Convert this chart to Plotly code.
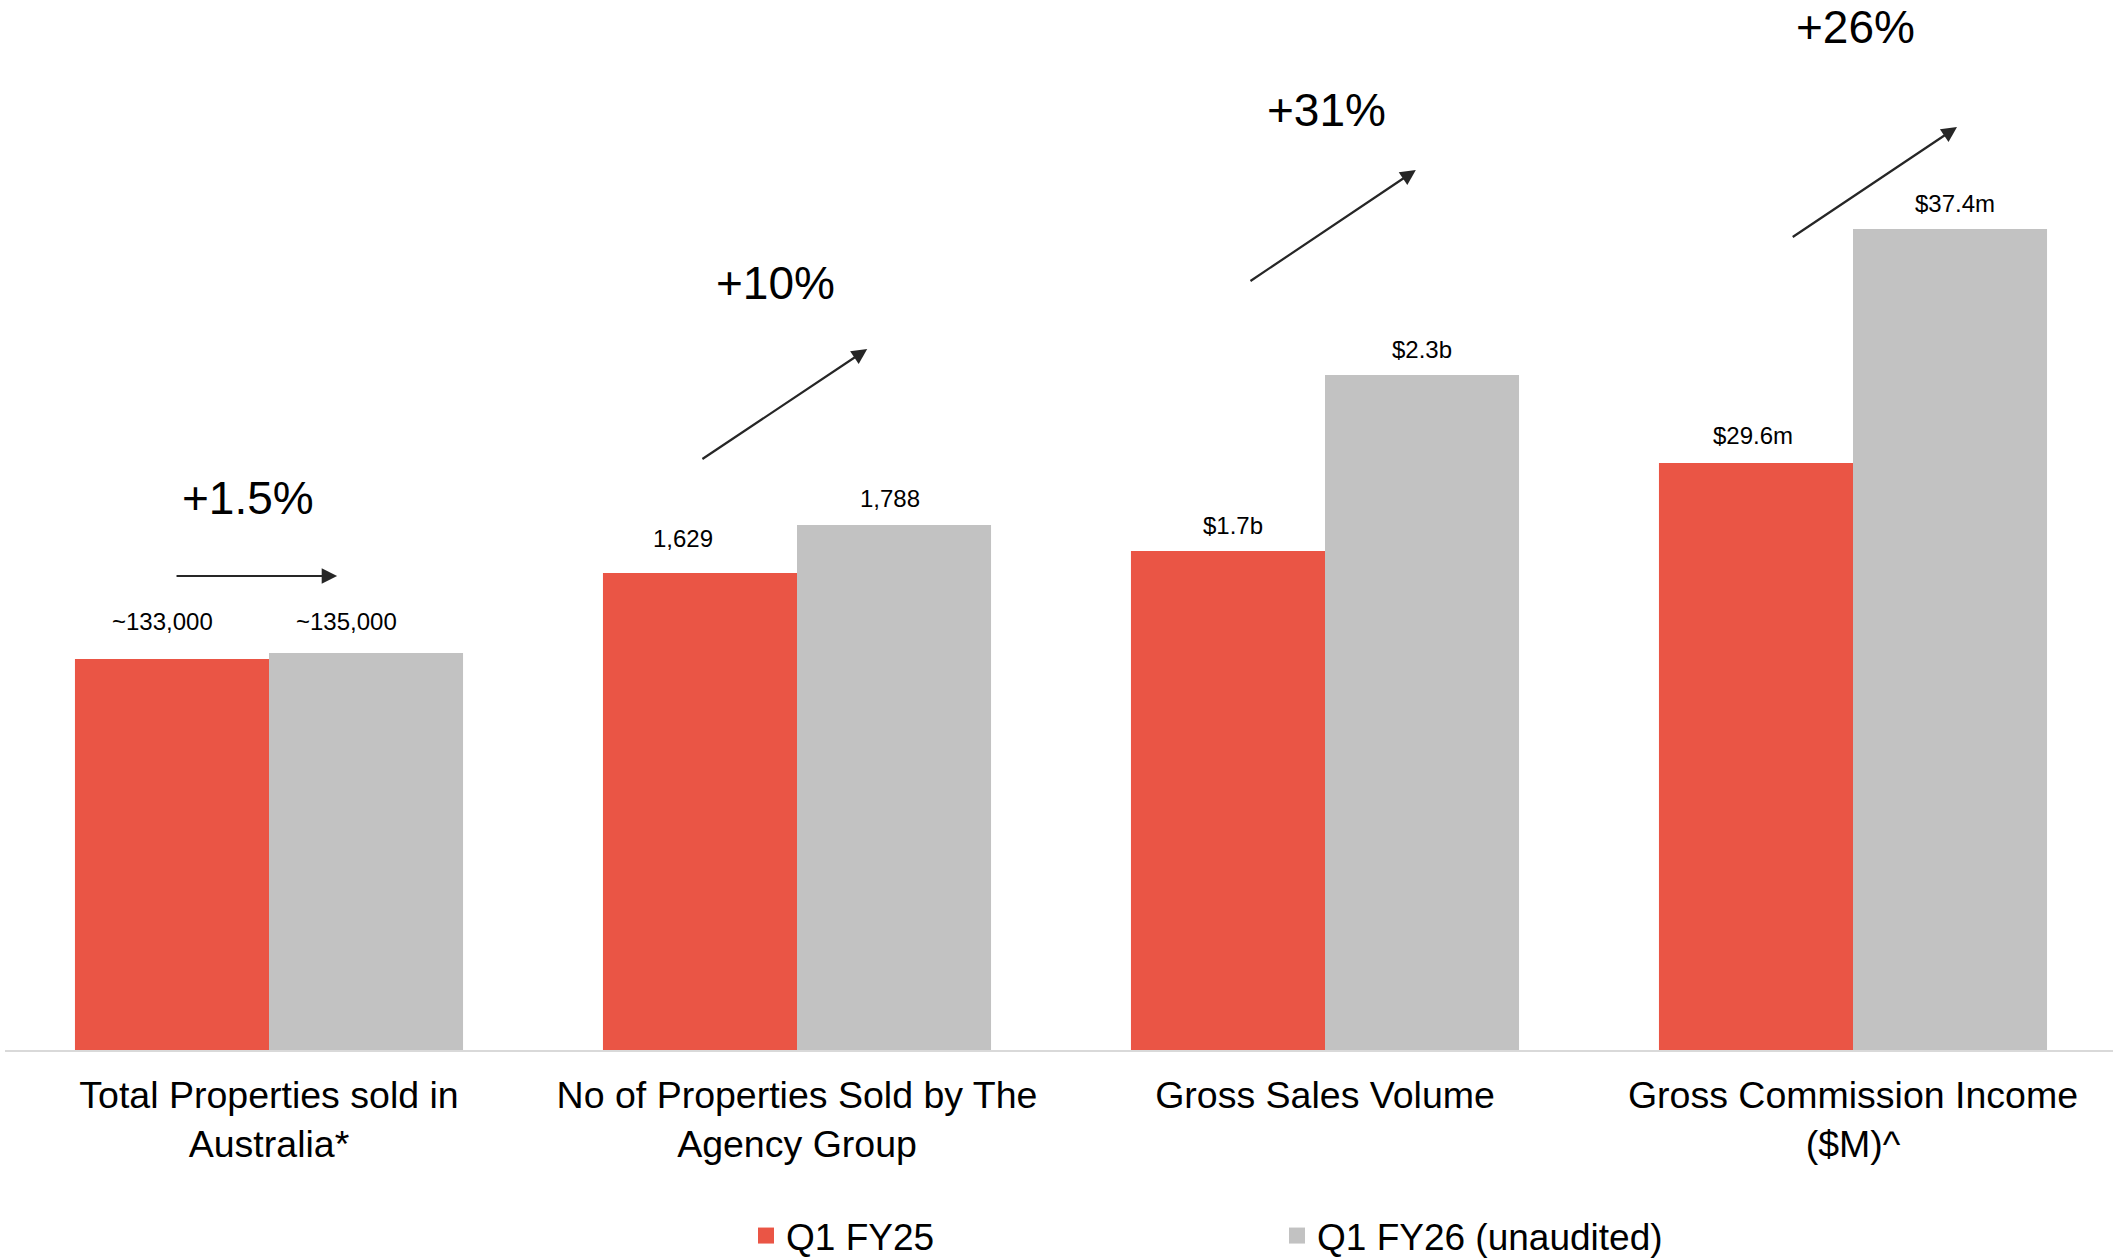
import plotly.graph_objects as go

# ---------------- data ----------------
categories = [
    "Total Properties sold in<br>Australia*",
    "No of Properties Sold by The<br>Agency Group",
    "Gross Sales Volume",
    "Gross Commission Income<br>($M)^",
]
series_names = ["Q1 FY25", "Q1 FY26 (unaudited)"]
# bar heights as drawn (each metric on its own visual scale, no value axis shown)
q1_fy25_heights = [391, 477, 499, 587]
q1_fy26_heights = [397, 525, 675, 821]
q1_fy25_labels = ["~133,000", "1,629", "$1.7b", "$29.6m"]
q1_fy26_labels = ["~135,000", "1,788", "$2.3b", "$37.4m"]
growth_labels = ["+1.5%", "+10%", "+31%", "+26%"]

# ---------------- styling / decoration positions ----------------
RED = "#EA5545"
GREY = "#C2C2C2"
FONT = "Arial, Liberation Sans, sans-serif"
BARGAP = 0.265
label_shift_25 = [(-9, 38), (-17, 35), (5, 26), (-3, 28)]
label_shift_26 = [(-20, 32), (-4, 27), (0, 26), (5, 26)]
growth_pos = [(-0.040, 552), (0.960, 767), (2.002, 940), (3.004, 1023)]
arrow_start = [(-0.178, 474), (0.818, 590), (1.856, 768), (2.883, 812)]
arrow_end = [(0.129, 474), (1.133, 701), (2.172, 880), (3.197, 923)]

x_idx = list(range(len(categories)))

fig = go.Figure()
fig.add_trace(go.Bar(x=x_idx, y=q1_fy25_heights, name=series_names[0], showlegend=False,
                     marker=dict(color=RED, line=dict(width=0)), hoverinfo="skip"))
fig.add_trace(go.Bar(x=x_idx, y=q1_fy26_heights, name=series_names[1], showlegend=False,
                     marker=dict(color=GREY, line=dict(width=0)), hoverinfo="skip"))
# legend entries (larger square swatches)
for nm, col in zip(series_names, (RED, GREY)):
    fig.add_trace(go.Scatter(x=[None], y=[None], mode="markers", name=nm,
                             marker=dict(symbol="square", size=18, color=col),
                             hoverinfo="skip"))

half = (1 - BARGAP) / 4.0
annotations = []
for i in x_idx:
    for off, h, lab, (xs, ys) in ((-half, q1_fy25_heights[i], q1_fy25_labels[i], label_shift_25[i]),
                                  (half, q1_fy26_heights[i], q1_fy26_labels[i], label_shift_26[i])):
        annotations.append(dict(x=i + off, y=h, text=lab, showarrow=False,
                                yanchor="middle", xshift=xs, yshift=ys,
                                font=dict(size=24, color="#000000", family=FONT)))
for (gx, gy), txt in zip(growth_pos, growth_labels):
    annotations.append(dict(x=gx, y=gy, text=txt, showarrow=False, yanchor="middle",
                            font=dict(size=46, color="#000000", family=FONT)))
for (sx, sy), (ex, ey) in zip(arrow_start, arrow_end):
    annotations.append(dict(x=ex, y=ey, ax=sx, ay=sy, axref="x", ayref="y",
                            text="", showarrow=True, arrowhead=2, arrowsize=1.4,
                            arrowwidth=2.2, arrowcolor="#262626", standoff=0))

fig.update_layout(
    width=2113, height=1258,
    margin=dict(l=5, r=0, t=0, b=208),
    paper_bgcolor="white", plot_bgcolor="white",
    barmode="group", bargap=BARGAP, bargroupgap=0,
    font=dict(family=FONT, color="#000000"),
    xaxis=dict(range=[-0.5, -0.5 + 2108 / 528], tickvals=x_idx, ticktext=categories,
               showgrid=False, zeroline=False, showline=True, linecolor="#D9D9D9",
               linewidth=2, ticks="", ticklabelstandoff=11,
               tickfont=dict(size=37.5, color="#000000", family=FONT)),
    yaxis=dict(range=[0, 1050], visible=False, showgrid=False, zeroline=False),
    legend=dict(orientation="h", xref="container", yref="container",
                x=746 / 2113, xanchor="left", y=1 - 1236 / 1258, yanchor="middle",
                entrywidth=486, entrywidthmode="pixels", itemsizing="trace",
                font=dict(size=37, color="#000000", family=FONT)),
    annotations=annotations,
    showlegend=True,
)

fig.write_html("out.html")
